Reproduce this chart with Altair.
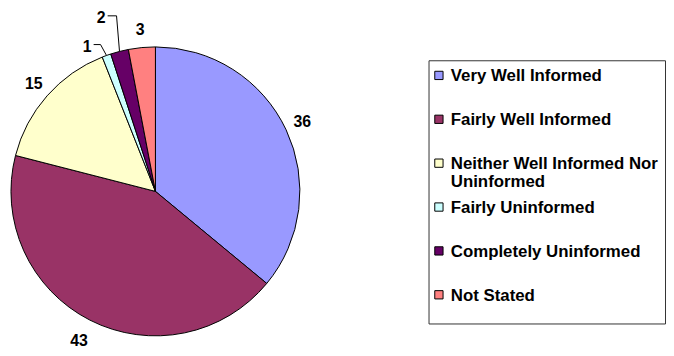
import altair as alt
import pandas as pd

categories = [
    "Very Well Informed",
    "Fairly Well Informed",
    "Neither Well Informed Nor Uninformed",
    "Fairly Uninformed",
    "Completely Uninformed",
    "Not Stated",
]
legend_labels = [
    "Very Well Informed",
    "Fairly Well Informed",
    "Neither Well Informed Nor\nUninformed",
    "Fairly Uninformed",
    "Completely Uninformed",
    "Not Stated",
]
values = [36, 43, 15, 1, 2, 3]
colors = ["#9999FF", "#993366", "#FFFFCC", "#CCFFFF", "#660066", "#FF8080"]

df = pd.DataFrame({
    "category": categories,
    "legend": legend_labels,
    "value": values,
    "order": list(range(len(values))),
})

CX, CY, R = 149, 183.5, 146
FONT = "Liberation Sans"
FS = 16
LFS = 17

base = alt.Chart(df)
color = alt.Color("category:N", scale=alt.Scale(domain=categories, range=colors), legend=None)
theta = alt.Theta("value:Q", stack=True)
order = alt.Order("order:Q")

pie = base.mark_arc(radius=R, stroke="black", strokeWidth=1).encode(
    theta=theta, color=color, order=order, x=alt.value(CX), y=alt.value(CY)
)

labels = base.transform_calculate(
    lab="datum.value >= 3 && datum.value != 43 ? datum.value + '' : ''"
).mark_text(radius=164, font=FONT, fontSize=FS, fontWeight="bold",
            align="center", baseline="middle", color="black").encode(
    theta=theta, order=order, text="lab:N", x=alt.value(CX), y=alt.value(CY)
)

labels43 = base.transform_calculate(
    lab="datum.value == 43 ? datum.value + '' : ''"
).mark_text(radius=170, font=FONT, fontSize=FS, fontWeight="bold",
            align="center", baseline="middle", color="black").encode(
    theta=theta, order=order, text="lab:N", x=alt.value(CX), y=alt.value(CY)
)

# leader lines for the two smallest slices (Excel-style bent callouts)
lead = base.transform_joinaggregate(total="sum(value)").transform_window(
    cum="sum(value)", sort=[alt.SortField("order")]
).transform_calculate(
    mid="2*PI*(datum.cum - datum.value/2)/datum.total",
    ex=f"{CX} + {R}*sin(datum.mid)",
    ey=f"{CY} - {R}*cos(datum.mid)",
    bx="datum.ex + (datum.value == 1 ? -6 : -3)",
    by="datum.ey + (datum.value == 1 ? -11 : -36)",
    hx="datum.bx + (datum.value == 1 ? -7 : -9)",
    tx="datum.hx - 2",
    ty="datum.by + 2.5",
).transform_filter("datum.value < 3")

rule1 = lead.mark_rule(color="black", strokeWidth=1).encode(
    x=alt.X("ex:Q", scale=None, axis=None), y=alt.Y("ey:Q", scale=None, axis=None),
    x2="bx:Q", y2="by:Q"
)
rule2 = lead.mark_rule(color="black", strokeWidth=1).encode(
    x=alt.X("bx:Q", scale=None, axis=None), y=alt.Y("by:Q", scale=None, axis=None),
    x2="hx:Q", y2="by:Q"
)
small_text = lead.mark_text(font=FONT, fontSize=FS, fontWeight="bold",
                            align="right", baseline="middle", color="black").encode(
    x=alt.X("tx:Q", scale=None, axis=None), y=alt.Y("ty:Q", scale=None, axis=None),
    text="value:Q"
)

box = base.transform_filter("datum.order == 0").mark_rect(
    fill="white", stroke="#333333", strokeWidth=1
).encode(x=alt.value(425.5), x2=alt.value(664.5), y=alt.value(51.5), y2=alt.value(317.5))

legY = alt.Y("category:N", axis=None,
             scale=alt.Scale(type="point", domain=categories, range=[66.3, 288], padding=0))

squares = base.mark_square(size=70, stroke="black", strokeWidth=1, opacity=1).encode(
    x=alt.value(435.5), y=legY, color=color
)
legtext = base.mark_text(font=FONT, fontSize=LFS, fontWeight="bold", align="left",
                         baseline="top", dy=-7, lineBreak="\n", lineHeight=18,
                         color="black").encode(
    x=alt.value(447.5), y=legY, text="legend:N"
)

legend_layer = alt.layer(box, squares, legtext)
pie_layer = alt.layer(pie, labels, labels43, rule1, rule2, small_text)

chart = alt.layer(pie_layer, legend_layer).resolve_scale(
    x="independent", y="independent"
).properties(
    width=665, height=345, autosize=alt.AutoSizeParams(type="none"), padding=0
).configure_view(stroke=None)

chart.save("out.html", embed_options={"renderer": "svg", "actions": False})
